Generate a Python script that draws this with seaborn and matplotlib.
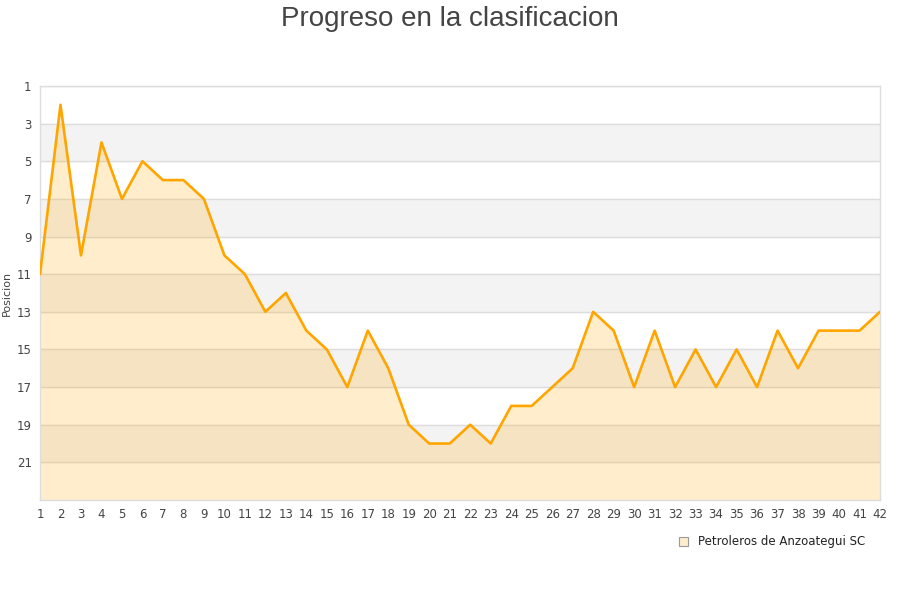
import matplotlib
matplotlib.use('Agg')
import matplotlib.pyplot as plt
import seaborn as sns
import pandas as pd
from matplotlib.patches import Patch

# Data: position per round
jornadas = list(range(1, 43))
posicion = [11, 2, 10, 4, 7, 5, 6, 6, 7, 10,
            11, 13, 12, 14, 15, 17, 14, 16, 19, 20,
            20, 19, 20, 18, 18, 17, 16, 13, 14, 17,
            14, 17, 15, 17, 15, 17, 14, 16, 14, 14,
            14, 13]
y_ticks = list(range(1, 22, 2))
equipo = 'Petroleros de Anzoategui SC'

df = pd.DataFrame({'jornada': jornadas, 'posicion': posicion})

sns.set_style('white')
plt.rcParams['font.family'] = ['DejaVu Sans']

fig = plt.figure(figsize=(9, 6), dpi=100)
ax = fig.add_axes([40 / 900, 100 / 600, 840 / 900, 414 / 600])

# Alternating bands
for start in range(3, 23, 4):
    ax.axhspan(start, start + 2, color='#f3f3f3', zorder=0)

ax.fill_between(df['jornada'], df['posicion'], 23, color='#FFA500', alpha=0.2,
                linewidth=0, zorder=1)
sns.lineplot(data=df, x='jornada', y='posicion', ax=ax, color='#FFA500',
             linewidth=1.9, zorder=3)

ax.set_xlim(1, 42)
ax.set_ylim(23, 1)
ax.set_yticks(y_ticks)
ax.set_xticks(jornadas)
ax.tick_params(axis='both', labelsize=8.5, colors='#444444', length=0, pad=6)
ax.yaxis.grid(True, color='#dddddd', linewidth=1, zorder=0)
ax.xaxis.grid(False)
for s in ax.spines.values():
    s.set_color('#dddddd')
    s.set_linewidth(1)

ax.set_xlabel('')
ax.set_ylabel('Posicion', fontsize=8, color='#444444', labelpad=4)
ax.yaxis.set_label_coords(-0.033, 0.5)

fig.suptitle('Progreso en la clasificacion', fontsize=20, color='#444444', y=0.99,
             family=['Liberation Sans'])

handle = Patch(facecolor='#FEEDCC', edgecolor='#999999', linewidth=0.8)
ax.legend([handle], [equipo], loc='upper right', bbox_to_anchor=(0.995, -0.06),
          frameon=False, fontsize=8.5, handlelength=0.8, handleheight=0.8,
          handletextpad=0.8, labelcolor='#222222')

fig.savefig('out.png', dpi=100)
